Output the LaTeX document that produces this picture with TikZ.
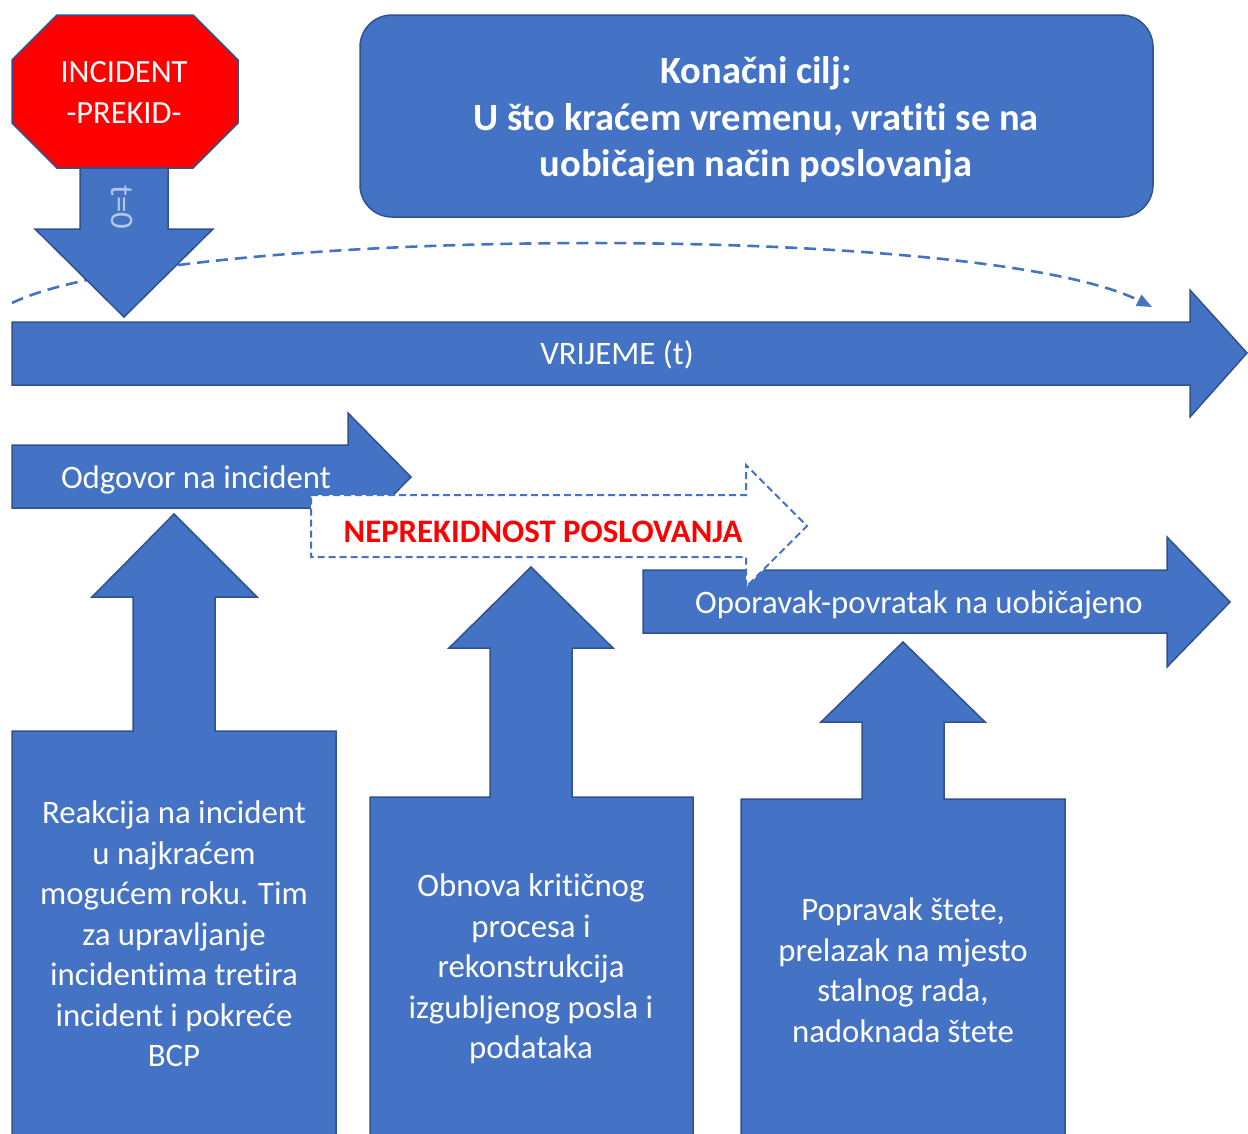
\documentclass[tikz,border=0pt]{standalone}
\usepackage{fontspec}
\setmainfont{Carlito}[Ligatures=NoCommon]
\usetikzlibrary{arrows.meta}

\definecolor{shapeblue}{HTML}{4472C4}
\definecolor{shapeedge}{HTML}{2F528F}
\definecolor{paleblue}{HTML}{B4C7E7}
\definecolor{alertred}{HTML}{FF0000}

\tikzset{
  blockshape/.style={fill=shapeblue, draw=shapeedge, line width=1.5pt, line join=miter},
  labeltext/.style={text=white, align=center, font=\fontsize{32.8}{40.5}\selectfont},
}

\begin{document}
\begin{tikzpicture}[x=1pt, y=-1pt]
  \useasboundingbox (0,0) rectangle (1248,1133);

  % goal
  \draw[blockshape, rounded corners=32pt] (360,15) rectangle (1153,217);
  \node[labeltext, font=\fontsize{38.5}{46.5}\selectfont\bfseries] (goal) at (756,120)
    {Konačni cilj:\\U što kraćem vremenu, vratiti se na\\uobičajen način poslovanja};

  % dashed time span
  \coordinate (arcstart) at (12,303);
  \coordinate (arcend) at (1152,307);
  \draw[shapeblue, line width=2.6pt, dash pattern=on 12pt off 7pt,
        -{Triangle[length=15pt, width=12pt]}]
    (arcstart) .. controls (170,226) and (980,221) .. (arcend);

  % incident
  \draw[blockshape, fill=alertred] (57,15) -- (193,15) -- (238,60) -- (238,123)
    -- (193,168) -- (57,168) -- (12,123) -- (12,60) -- cycle;
  \node[labeltext, font=\fontsize{32.4}{41}\selectfont] (incident) at (124,92) {INCIDENT\\-PREKID-};
  \draw[blockshape] (80,168) -- (168,168) -- (168,229) -- (213,229) -- (124,317)
    -- (35,229) -- (80,229) -- cycle;
  \node[labeltext, text=paleblue, rotate=-90] (tzero) at (122,207) {t=0};

  % time axis
  \draw[blockshape] (12,322) -- (1190,322) -- (1190,290) -- (1247,353) -- (1190,417)
    -- (1190,385) -- (12,385) -- cycle;
  \node[labeltext] (time) at (617,355) {VRIJEME (t)};

  % phases
  \draw[blockshape] (12,445) -- (348,445) -- (348,413) -- (411,477) -- (348,541)
    -- (348,508) -- (12,508) -- cycle;
  \node[labeltext] (response) at (196,480) {Odgovor na incident};
  \draw[blockshape] (643,570) -- (1167,570) -- (1167,537) -- (1230,602) -- (1167,667)
    -- (1167,633) -- (643,633) -- cycle;
  \node[labeltext] (recovery) at (919,605) {Oporavak-povratak na uobičajeno};
  \draw[fill=white, draw=shapeblue, line width=2pt, dash pattern=on 7pt off 4pt]
    (311,495) -- (746,495) -- (746,465) -- (807,526) -- (746,587) -- (746,557)
    -- (311,557) -- cycle;
  \node[text=alertred, font=\fontsize{32.8}{40}\selectfont\bfseries] (continuity) at (543,532)
    {NEPREKIDNOST POSLOVANJA};

  % activities
  \draw[blockshape] (12,1136) -- (12,731) -- (133,731) -- (133,597) -- (92,597) -- (174,514)
    -- (257,597) -- (215,597) -- (215,731) -- (336,731) -- (336,1136);
  \node[labeltext] (reaction) at (174,934)
    {Reakcija na incident\\u najkraćem\\mogućem roku. Tim\\za upravljanje\\incidentima tretira\\incident i pokreće\\BCP};
  \draw[blockshape] (370,1136) -- (370,797) -- (490,797) -- (490,648) -- (449,648) -- (531,567)
    -- (613,648) -- (572,648) -- (572,797) -- (693,797) -- (693,1136);
  \node[labeltext] (restore) at (531,969)
    {Obnova kritičnog\\procesa i\\rekonstrukcija\\izgubljenog posla i\\podataka};
  \draw[blockshape] (741,1136) -- (741,799) -- (862,799) -- (862,722) -- (821,722) -- (903,642)
    -- (985,722) -- (944,722) -- (944,799) -- (1065,799) -- (1065,1136);
  \node[labeltext] (repair) at (903,970)
    {Popravak štete,\\prelazak na mjesto\\stalnog rada,\\nadoknada štete};
\end{tikzpicture}
\end{document}
